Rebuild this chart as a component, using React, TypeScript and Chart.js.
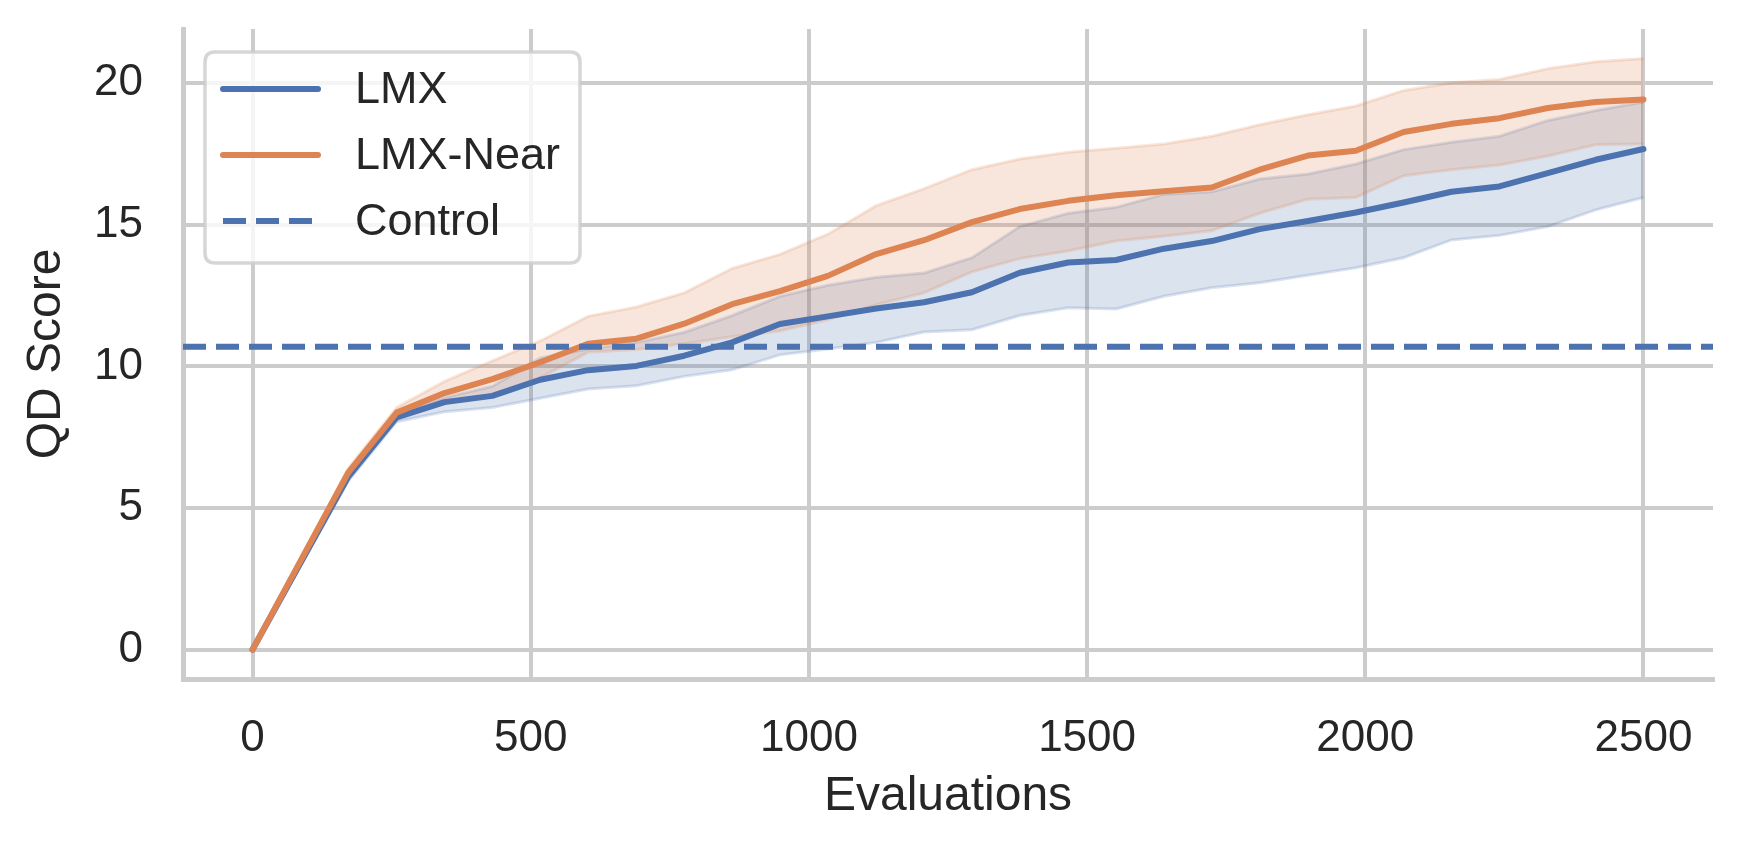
import React, { useEffect, useRef } from "react";
import { Chart, registerables } from "chart.js";

Chart.register(...registerables);

// evaluation counts at which the runs were logged
const evaluations = [
  0, 172, 259, 345, 431, 517, 603, 690, 776, 862, 948, 1034, 1121, 1207, 1293,
  1379, 1466, 1552, 1638, 1724, 1810, 1897, 1983, 2069, 2155, 2241, 2328, 2414, 2500,
];

// LMX mean QD score and its confidence band
const lmxMean = [
  0, 6.1, 8.2, 8.74, 8.96, 9.53, 9.87, 10.02, 10.38, 10.85, 11.5, 11.77, 12.05, 12.27,
  12.62, 13.31, 13.67, 13.76, 14.16, 14.43, 14.85, 15.14, 15.44, 15.79, 16.17, 16.36,
  16.83, 17.3, 17.68,
];
const lmxLow = [
  0, 5.95, 8.05, 8.4, 8.55, 8.88, 9.2, 9.32, 9.65, 9.88, 10.41, 10.62, 10.85, 11.22,
  11.3, 11.8, 12.07, 12.03, 12.48, 12.78, 12.96, 13.22, 13.49, 13.84, 14.47, 14.63,
  14.94, 15.53, 15.97,
];
const lmxHigh = [
  0, 6.25, 8.35, 8.9, 9.3, 10.3, 10.62, 10.85, 11.21, 11.8, 12.48, 12.87, 13.15, 13.3,
  13.84, 14.94, 15.41, 15.62, 16.08, 16.17, 16.62, 16.8, 17.15, 17.66, 17.92, 18.13,
  18.69, 19.04, 19.34,
];

// LMX-Near mean QD score and its confidence band
const nearMean = [
  0, 6.25, 8.37, 9.06, 9.55, 10.15, 10.8, 10.98, 11.51, 12.2, 12.66, 13.2, 13.97, 14.46,
  15.1, 15.56, 15.85, 16.05, 16.19, 16.32, 16.95, 17.45, 17.62, 18.28, 18.57, 18.77,
  19.13, 19.34, 19.43,
];
const nearLow = [
  0, 6.1, 8.2, 8.7, 9.0, 9.6, 10.5, 10.6, 10.8, 11.05, 11.25, 11.65, 12.18, 12.6, 13.34,
  13.81, 14.08, 14.43, 14.6, 14.79, 15.41, 15.91, 15.97, 16.74, 16.95, 17.12, 17.43,
  17.83, 17.86,
];
const nearHigh = [
  0, 6.4, 8.55, 9.47, 10.2, 10.9, 11.77, 12.1, 12.6, 13.46, 13.96, 14.67, 15.68, 16.28,
  16.95, 17.33, 17.57, 17.71, 17.86, 18.13, 18.54, 18.89, 19.2, 19.75, 20.02, 20.14,
  20.52, 20.76, 20.88,
];

const controlScore = 10.7;

const xTicks = [0, 500, 1000, 1500, 2000, 2500];
const yTicks = [0, 5, 10, 15, 20];
const X_MIN = -125;
const X_MAX = 2625;
const Y_MIN = -1.04;
const Y_MAX = 21.92;

const BLUE = "#4c72b0";
const ORANGE = "#dd8452";
const TEXT = "#262626";
const GRID = "#cccccc";
const FONT = '"Liberation Sans", Arial, sans-serif';

const legendItems = [
  { label: "LMX", color: BLUE, dash: [] as number[] },
  { label: "LMX-Near", color: ORANGE, dash: [] as number[] },
  { label: "Control", color: BLUE, dash: [23, 10] },
];

const pts = (ys: number[]) => ys.map((y, i) => ({ x: evaluations[i], y }));

const roundRect = (ctx: CanvasRenderingContext2D, x: number, y: number, w: number, h: number, r: number) => {
  ctx.beginPath();
  ctx.moveTo(x + r, y);
  ctx.lineTo(x + w - r, y);
  ctx.quadraticCurveTo(x + w, y, x + w, y + r);
  ctx.lineTo(x + w, y + h - r);
  ctx.quadraticCurveTo(x + w, y + h, x + w - r, y + h);
  ctx.lineTo(x + r, y + h);
  ctx.quadraticCurveTo(x, y + h, x, y + h - r);
  ctx.lineTo(x, y + r);
  ctx.quadraticCurveTo(x, y, x + r, y);
  ctx.closePath();
};

// matplotlib-style framed legend inside the plot area
const boxLegend = {
  id: "boxLegend",
  afterDatasetsDraw(chart: Chart) {
    const { ctx, chartArea } = chart;
    const x0 = chartArea.left + 22;
    const y0 = chartArea.top + 23;
    ctx.save();
    roundRect(ctx, x0, y0, 375, 211, 10);
    ctx.fillStyle = "rgba(255,255,255,0.8)";
    ctx.fill();
    ctx.lineWidth = 3.5;
    ctx.strokeStyle = "rgba(204,204,204,0.8)";
    ctx.stroke();

    legendItems.forEach((item, i) => {
      const y = y0 + 37 + i * 66;
      ctx.beginPath();
      ctx.setLineDash(item.dash);
      ctx.lineCap = item.dash.length ? "butt" : "round";
      ctx.lineWidth = 6;
      ctx.strokeStyle = item.color;
      ctx.moveTo(x0 + 18, y);
      ctx.lineTo(x0 + 113, y);
      ctx.stroke();
      ctx.setLineDash([]);
      ctx.fillStyle = TEXT;
      ctx.font = `45px ${FONT}`;
      ctx.textAlign = "left";
      ctx.textBaseline = "middle";
      ctx.fillText(item.label, x0 + 150, y + 2);
    });
    ctx.restore();
  },
};

const App = () => {
  const chartRef = useRef<HTMLCanvasElement | null>(null);
  const chartInstance = useRef<Chart | null>(null);

  useEffect(() => {
    document.body.style.margin = "0";
    if (chartInstance.current) chartInstance.current.destroy();
    const ctx = chartRef.current?.getContext("2d");
    if (!ctx) return;

    const band = (color: string) => ({
      pointRadius: 0,
      borderWidth: 3,
      borderColor: color,
      tension: 0,
    });

    chartInstance.current = new Chart(ctx, {
      type: "line",
      data: {
        datasets: [
          { label: "LMX low", data: pts(lmxLow), ...band("rgba(76,114,176,0.2)"), fill: false, order: 10 },
          {
            label: "LMX high",
            data: pts(lmxHigh),
            ...band("rgba(76,114,176,0.2)"),
            fill: "-1",
            backgroundColor: "rgba(76,114,176,0.2)",
            order: 9,
          },
          { label: "Near low", data: pts(nearLow), ...band("rgba(221,132,82,0.2)"), fill: false, order: 8 },
          {
            label: "Near high",
            data: pts(nearHigh),
            ...band("rgba(221,132,82,0.2)"),
            fill: "-1",
            backgroundColor: "rgba(221,132,82,0.2)",
            order: 7,
          },
          {
            label: "LMX",
            data: pts(lmxMean),
            borderColor: BLUE,
            borderWidth: 6,
            borderCapStyle: "round",
            borderJoinStyle: "round",
            pointRadius: 0,
            fill: false,
            order: 3,
          },
          {
            label: "LMX-Near",
            data: pts(nearMean),
            borderColor: ORANGE,
            borderWidth: 6,
            borderCapStyle: "round",
            borderJoinStyle: "round",
            pointRadius: 0,
            fill: false,
            order: 2,
          },
          {
            label: "Control",
            data: [
              { x: X_MIN, y: controlScore },
              { x: X_MAX, y: controlScore },
            ],
            borderColor: BLUE,
            borderWidth: 6,
            borderDash: [23, 10],
            borderCapStyle: "butt",
            pointRadius: 0,
            fill: false,
            order: 1,
          },
        ],
      },
      options: {
        responsive: false,
        devicePixelRatio: 1,
        animation: false,
        layout: { padding: { top: 29, right: 29, left: 0, bottom: 0 } },
        plugins: {
          legend: { display: false },
          tooltip: { enabled: false },
        },
        scales: {
          x: {
            type: "linear",
            min: X_MIN,
            max: X_MAX,
            afterBuildTicks: (s: any) => {
              s.ticks = xTicks.map((v) => ({ value: v }));
            },
            afterFit: (s: any) => {
              s.height = 175;
              s.paddingLeft = 0;
              s.paddingRight = 0;
            },
            grid: { color: GRID, lineWidth: 4, drawTicks: false },
            border: { display: true, color: GRID, width: 5 },
            ticks: {
              color: TEXT,
              font: { family: FONT, size: 44 },
              padding: 33,
              maxRotation: 0,
              autoSkip: false,
              callback: (v: any) => String(v),
            },
            title: {
              display: true,
              text: "Evaluations",
              color: TEXT,
              font: { family: FONT, size: 48 },
              padding: { top: 0, bottom: 28 },
            },
          },
          y: {
            type: "linear",
            min: Y_MIN,
            max: Y_MAX,
            afterBuildTicks: (s: any) => {
              s.ticks = yTicks.map((v) => ({ value: v }));
            },
            afterFit: (s: any) => {
              s.width = 183;
              s.paddingTop = 0;
              s.paddingBottom = 0;
            },
            grid: { color: GRID, lineWidth: 4, drawTicks: false },
            border: { display: true, color: GRID, width: 5 },
            ticks: {
              color: TEXT,
              font: { family: FONT, size: 44 },
              padding: 40,
              autoSkip: false,
              callback: (v: any) => String(v),
            },
            title: {
              display: true,
              text: "QD Score",
              color: TEXT,
              font: { family: FONT, size: 48 },
              padding: { top: 18, bottom: 0 },
            },
          },
        },
      },
      plugins: [boxLegend],
    });

    return () => {
      if (chartInstance.current) chartInstance.current.destroy();
      chartInstance.current = null;
    };
  }, []);

  return (
    <div style={{ width: 1742, height: 854, background: "#fff" }}>
      <canvas ref={chartRef} width={1742} height={854} style={{ display: "block" }}></canvas>
    </div>
  );
};

export default App;
